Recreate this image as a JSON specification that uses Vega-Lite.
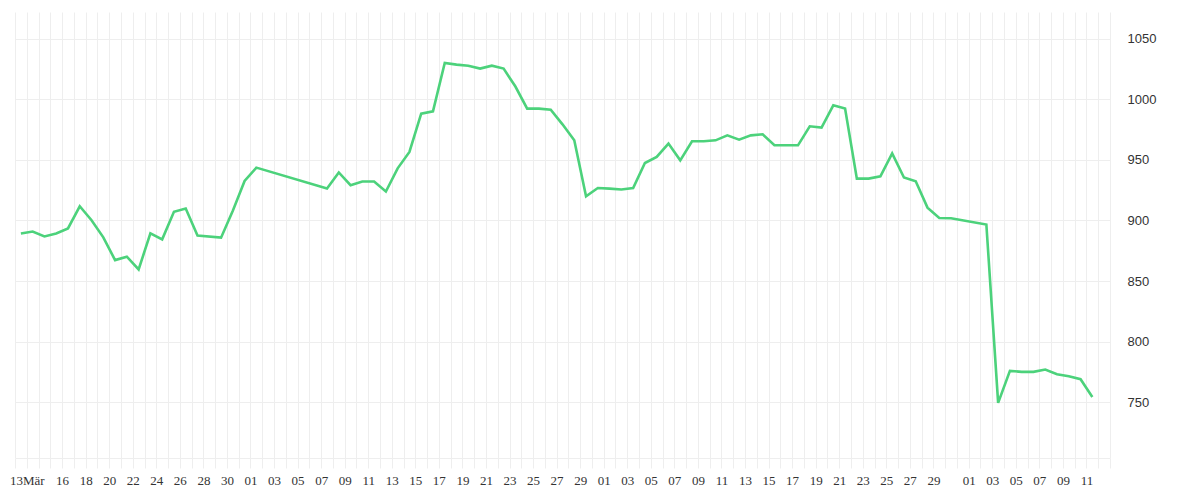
{
  "$schema": "https://vega.github.io/schema/vega-lite/v6.json",
  "description": "Daily price line, 12 Mar - 11 Jun",
  "width": 1095,
  "height": 446,
  "autosize": "none",
  "padding": {"left": 15, "top": 12, "right": 90, "bottom": 42},
  "background": "white",
  "config": {"view": {"stroke": null}},
  "data": {
    "values": [
      {"date": "2025-03-12", "value": 889.3},
      {"date": "2025-03-13", "value": 890.9},
      {"date": "2025-03-14", "value": 886.8},
      {"date": "2025-03-15", "value": 889.3},
      {"date": "2025-03-16", "value": 893.4},
      {"date": "2025-03-17", "value": 911.7},
      {"date": "2025-03-18", "value": 900.2},
      {"date": "2025-03-19", "value": 886.1},
      {"date": "2025-03-20", "value": 867.3},
      {"date": "2025-03-21", "value": 870.1},
      {"date": "2025-03-22", "value": 859.6},
      {"date": "2025-03-23", "value": 889.3},
      {"date": "2025-03-24", "value": 884.4},
      {"date": "2025-03-25", "value": 907.1},
      {"date": "2025-03-26", "value": 909.9},
      {"date": "2025-03-27", "value": 887.5},
      {"date": "2025-03-29", "value": 885.8},
      {"date": "2025-03-30", "value": 908.0},
      {"date": "2025-03-31", "value": 932.6},
      {"date": "2025-04-01", "value": 943.6},
      {"date": "2025-04-07", "value": 926.4},
      {"date": "2025-04-08", "value": 939.6},
      {"date": "2025-04-09", "value": 929.1},
      {"date": "2025-04-10", "value": 932.1},
      {"date": "2025-04-11", "value": 932.1},
      {"date": "2025-04-12", "value": 923.9},
      {"date": "2025-04-13", "value": 943.0},
      {"date": "2025-04-14", "value": 956.5},
      {"date": "2025-04-15", "value": 988.1},
      {"date": "2025-04-16", "value": 990.0},
      {"date": "2025-04-17", "value": 1029.9},
      {"date": "2025-04-18", "value": 1028.6},
      {"date": "2025-04-19", "value": 1027.7},
      {"date": "2025-04-20", "value": 1025.3},
      {"date": "2025-04-21", "value": 1027.7},
      {"date": "2025-04-22", "value": 1025.3},
      {"date": "2025-04-23", "value": 1010.5},
      {"date": "2025-04-24", "value": 992.3},
      {"date": "2025-04-25", "value": 992.3},
      {"date": "2025-04-26", "value": 991.4},
      {"date": "2025-04-27", "value": 979.3},
      {"date": "2025-04-28", "value": 966.1},
      {"date": "2025-04-29", "value": 920.0},
      {"date": "2025-04-30", "value": 926.8},
      {"date": "2025-05-01", "value": 926.3},
      {"date": "2025-05-02", "value": 925.5},
      {"date": "2025-05-03", "value": 926.8},
      {"date": "2025-05-04", "value": 947.4},
      {"date": "2025-05-05", "value": 952.4},
      {"date": "2025-05-06", "value": 963.4},
      {"date": "2025-05-07", "value": 949.6},
      {"date": "2025-05-08", "value": 965.3},
      {"date": "2025-05-09", "value": 965.3},
      {"date": "2025-05-10", "value": 966.1},
      {"date": "2025-05-11", "value": 970.2},
      {"date": "2025-05-12", "value": 966.7},
      {"date": "2025-05-13", "value": 970.2},
      {"date": "2025-05-14", "value": 971.1},
      {"date": "2025-05-15", "value": 962.0},
      {"date": "2025-05-16", "value": 962.0},
      {"date": "2025-05-17", "value": 962.0},
      {"date": "2025-05-18", "value": 977.7},
      {"date": "2025-05-19", "value": 976.6},
      {"date": "2025-05-20", "value": 995.0},
      {"date": "2025-05-21", "value": 992.3},
      {"date": "2025-05-22", "value": 934.5},
      {"date": "2025-05-23", "value": 934.5},
      {"date": "2025-05-24", "value": 936.4},
      {"date": "2025-05-25", "value": 955.4},
      {"date": "2025-05-26", "value": 935.4},
      {"date": "2025-05-27", "value": 932.3},
      {"date": "2025-05-28", "value": 910.6},
      {"date": "2025-05-29", "value": 902.0},
      {"date": "2025-05-30", "value": 901.8},
      {"date": "2025-06-02", "value": 896.6},
      {"date": "2025-06-03", "value": 749.5},
      {"date": "2025-06-04", "value": 775.9},
      {"date": "2025-06-05", "value": 775.1},
      {"date": "2025-06-06", "value": 775.1},
      {"date": "2025-06-07", "value": 777.0},
      {"date": "2025-06-08", "value": 773.1},
      {"date": "2025-06-09", "value": 771.5},
      {"date": "2025-06-10", "value": 769.0},
      {"date": "2025-06-11", "value": 754.4}
    ]
  },
  "mark": {"type": "line", "color": "#4cd27b", "strokeWidth": 2.6, "interpolate": "linear"},
  "encoding": {
    "x": {
      "field": "date",
      "type": "temporal",
      "timeUnit": "utcyearmonthdate",
      "bandPosition": 0.5,
      "title": null,
      "scale": {
        "type": "utc",
        "domain": [
          {"year": 2025, "month": 3, "date": 12, "utc": true},
          {"year": 2025, "month": 6, "date": 13, "utc": true}
        ]
      },
      "axis": {
        "tickCount": {"interval": "day", "step": 1},
        "grid": true,
        "gridColor": "#eeeeee",
        "gridWidth": 1,
        "domain": true,
        "domainColor": "#eeeeee",
        "ticks": true,
        "tickSize": 10,
        "tickColor": "#eeeeee",
        "labelPadding": 6,
        "labelOverlap": false,
        "labelFlush": false,
        "labelBound": false,
        "labelFont": "Liberation Serif",
        "labelFontSize": 13,
        "labelColor": "#333333",
        "labelExpr": "utcmonth(datum.value)==2 ? (utcdate(datum.value)==13 ? '13Mär' : (utcdate(datum.value)>=16 && utcdate(datum.value)%2==0 ? utcFormat(datum.value,'%d') : '')) : ((utcmonth(datum.value)==5 && utcdate(datum.value)>11) ? '' : (utcdate(datum.value)%2==1 && utcdate(datum.value)<31 ? utcFormat(datum.value,'%d') : ''))"
      }
    },
    "y": {
      "field": "value",
      "type": "quantitative",
      "title": null,
      "scale": {"domain": [704, 1072], "nice": false, "zero": false},
      "axis": {
        "orient": "right",
        "values": [750, 800, 850, 900, 950, 1000, 1050],
        "format": "d",
        "grid": true,
        "gridColor": "#eeeeee",
        "domain": false,
        "ticks": false,
        "labelPadding": 17,
        "labelFont": "Liberation Sans",
        "labelFontSize": 13,
        "labelColor": "#333333"
      }
    }
  }
}
